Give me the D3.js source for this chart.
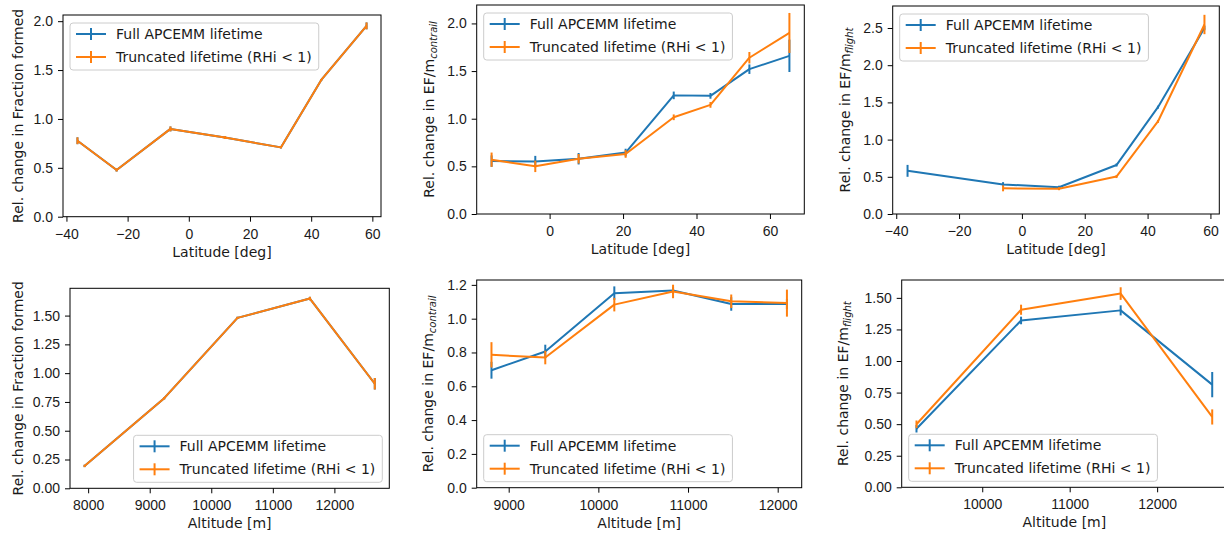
<!DOCTYPE html>
<html>
<head>
<meta charset="utf-8">
<script src="https://cdn.jsdelivr.net/npm/d3@7"></script>
<style>
  body { margin: 0; background: #fff; }
  svg { display: block; font-family: "DejaVu Sans", sans-serif; }
</style>
</head>
<body>
<svg id="chart" width="1224" height="535"></svg>
<script>
// latitude bins
const latA = [-36.4, -23.6, -6.0, 11.8, 30.1, 43.3, 58.1];
const latB = [-15.8, -3.9, 7.9, 20.7, 33.8, 43.8, 54.4, 65.3];
const latFlightFull = [-36.4, -6.0, 11.8, 30.1, 43.3, 58.1];
const latFlightTrunc = [-6.0, 11.8, 30.1, 43.3, 58.1];
// altitude bins
const altA = [7941, 9236, 10426, 11602, 12656];
const altB = [8808, 9408, 10178, 10833, 11482, 12103];
const altC = [9248, 10444, 11583, 12630];

// fraction formed vs latitude (both series identical)
const fracLatFull = [0.777, 0.477, 0.898, 0.81, 0.709, 1.399, 1.952];
const fracLatFullErr = [0.035, 0.015, 0.025, 0.015, 0.01, 0.01, 0.035];
const fracLatTrunc = [0.777, 0.477, 0.898, 0.81, 0.709, 1.399, 1.952];
const fracLatTruncErr = [0.035, 0.015, 0.025, 0.015, 0.01, 0.01, 0.035];

// EF per contrail length vs latitude
const efConLatFull = [0.555, 0.55, 0.58, 0.645, 1.245, 1.24, 1.52, 1.66];
const efConLatFullErr = [0.06, 0.06, 0.06, 0.04, 0.04, 0.03, 0.05, 0.17];
const efConLatTrunc = [0.57, 0.50, 0.58, 0.63, 1.015, 1.145, 1.64, 1.90];
const efConLatTruncErr = [0.075, 0.06, 0.05, 0.04, 0.03, 0.03, 0.06, 0.21];

// EF per flight length vs latitude
const efFltLatFull = [0.58, 0.398, 0.36, 0.658, 1.436, 2.50];
const efFltLatFullErr = [0.08, 0.03, 0.02, 0.02, 0.02, 0.03];
const efFltLatTrunc = [0.345, 0.34, 0.503, 1.244, 2.547];
const efFltLatTruncErr = [0.04, 0.02, 0.02, 0.02, 0.13];

// fraction formed vs altitude (both series identical)
const fracAltFull = [0.194, 0.783, 1.48, 1.648, 0.908];
const fracAltFullErr = [0.01, 0.01, 0.01, 0.015, 0.05];
const fracAltTrunc = [0.194, 0.783, 1.48, 1.648, 0.908];
const fracAltTruncErr = [0.01, 0.01, 0.01, 0.015, 0.05];

// EF per contrail length vs altitude
const efConAltFull = [0.695, 0.806, 1.151, 1.167, 1.087, 1.087];
const efConAltFullErr = [0.05, 0.04, 0.04, 0.02, 0.04, 0.03];
const efConAltTrunc = [0.786, 0.770, 1.083, 1.161, 1.103, 1.092];
const efConAltTruncErr = [0.075, 0.04, 0.04, 0.04, 0.04, 0.08];

// EF per flight length vs altitude
const efFltAltFull = [0.464, 1.321, 1.401, 0.813];
const efFltAltFullErr = [0.03, 0.03, 0.04, 0.10];
const efFltAltTrunc = [0.499, 1.406, 1.534, 0.557];
const efFltAltTruncErr = [0.03, 0.04, 0.05, 0.06];

const seriesNames = ["Full APCEMM lifetime", "Truncated lifetime (RHi < 1)"];
const colors = ["#1f77b4", "#ff7f0e"];

const svg = d3.select("#chart");
svg.append("rect").attr("width", 1224).attr("height", 535).attr("fill", "#fff");

function drawPanel(p) {
  const w = p.box.x1 - p.box.x0, h = p.box.y1 - p.box.y0;
  const g = svg.append("g").attr("transform", `translate(${p.box.x0},${p.box.y0})`);

  const allX = p.series.flatMap(s => s.x);
  const [xmin, xmax] = d3.extent(allX);
  const xm = (xmax - xmin) * 0.05;
  const x = d3.scaleLinear().domain([xmin - xm, xmax + xm]).range([0, w]);

  const lows = p.series.flatMap(s => s.y.map((v, i) => v - s.e[i]));
  const highs = p.series.flatMap(s => s.y.map((v, i) => v + s.e[i]));
  const ylo = d3.min(lows), yhi = d3.max(highs);
  const y = d3.scaleLinear().domain([0, yhi + (yhi - ylo) * 0.05]).range([h, 0]);

  // lines + error bars
  p.series.forEach((s, k) => {
    const pts = s.x.map((xv, i) => ({ x: xv, y: s.y[i], e: s.e[i] }));
    g.append("path")
      .datum(pts)
      .attr("fill", "none")
      .attr("stroke", colors[k])
      .attr("stroke-width", 2)
      .attr("stroke-linejoin", "round")
      .attr("d", d3.line().x(d => x(d.x)).y(d => y(d.y)));
    g.selectAll(null)
      .data(pts)
      .enter()
      .append("line")
      .attr("x1", d => x(d.x))
      .attr("x2", d => x(d.x))
      .attr("y1", d => y(d.y - d.e))
      .attr("y2", d => y(d.y + d.e))
      .attr("stroke", colors[k])
      .attr("stroke-width", 2);
  });

  // axes
  const xAxis = g.append("g")
    .attr("transform", `translate(0,${h})`)
    .call(d3.axisBottom(x).tickValues(p.xTicks).tickSize(5).tickPadding(7)
      .tickFormat(d => d < 0 ? "\u2212" + Math.abs(d) : d));
  const yAxis = g.append("g")
    .call(d3.axisLeft(y).tickValues(p.yTicks).tickSize(5).tickPadding(5)
      .tickFormat(d3.format(p.yFmt)));
  [xAxis, yAxis].forEach(a => {
    a.select(".domain").remove();
    a.selectAll("line").attr("stroke", "#000").attr("stroke-width", 1);
    a.selectAll("text").attr("fill", "#1a1a1a").style("font-size", "14px");
  });

  g.append("rect")
    .attr("width", w).attr("height", h)
    .attr("fill", "none").attr("stroke", "#000").attr("stroke-width", 1);

  // x label
  svg.append("text")
    .attr("x", p.box.x0 + w / 2)
    .attr("y", p.box.y1 + 40)
    .attr("text-anchor", "middle")
    .attr("fill", "#1a1a1a")
    .style("font-size", "14px")
    .text(p.xLabel);

  // y label
  const yl = svg.append("text")
    .attr("transform", `translate(${p.yLabelX},${p.box.y0 + h / 2}) rotate(-90)`)
    .attr("text-anchor", "middle")
    .attr("dy", "0.35em")
    .attr("fill", "#1a1a1a")
    .style("font-size", "14px");
  yl.append("tspan").text(p.yLabel);
  if (p.ySub) {
    yl.append("tspan")
      .attr("dy", "3")
      .style("font-size", "10px")
      .style("font-style", "italic")
      .text(p.ySub);
  }

  // legend
  const lg = g.append("g");
  const box = lg.append("rect")
    .attr("rx", 3).attr("ry", 3)
    .attr("fill", "#fff").attr("fill-opacity", 0.8)
    .attr("stroke", "#cccccc").attr("stroke-width", 1);
  let maxW = 0;
  seriesNames.forEach((name, k) => {
    const ry = 11 + k * 23;
    lg.append("line").attr("x1", 6).attr("x2", 36).attr("y1", ry).attr("y2", ry)
      .attr("stroke", colors[k]).attr("stroke-width", 2);
    lg.append("line").attr("x1", 21).attr("x2", 21).attr("y1", ry - 6).attr("y2", ry + 6)
      .attr("stroke", colors[k]).attr("stroke-width", 2);
    const t = lg.append("text").attr("x", 46).attr("y", ry).attr("dy", "0.35em")
      .attr("fill", "#1a1a1a").style("font-size", "14px").text(name);
    maxW = Math.max(maxW, t.node().getComputedTextLength());
  });
  const lw = 46 + maxW + 7, lh = 47;
  box.attr("width", lw).attr("height", lh);
  let lx = 7, ly = 8;
  if (p.legend === "lower right") { lx = w - 7 - lw; ly = h - 6 - lh; }
  if (p.legend === "lower left") { lx = 7; ly = h - 6 - lh; }
  lg.attr("transform", `translate(${lx},${ly})`);
}

const panels = [
  {
    box: { x0: 63, x1: 381, y0: 15, y1: 216.7 },
    series: [
      { x: latA, y: fracLatFull, e: fracLatFullErr },
      { x: latA, y: fracLatTrunc, e: fracLatTruncErr }
    ],
    xTicks: [-40, -20, 0, 20, 40, 60], yTicks: [0, 0.5, 1, 1.5, 2], yFmt: ".1f",
    xLabel: "Latitude [deg]", yLabel: "Rel. change in Fraction formed", yLabelX: 18,
    legend: "upper left"
  },
  {
    box: { x0: 476.7, x1: 804.3, y0: 5, y1: 214 },
    series: [
      { x: latB, y: efConLatFull, e: efConLatFullErr },
      { x: latB, y: efConLatTrunc, e: efConLatTruncErr }
    ],
    xTicks: [0, 20, 40, 60], yTicks: [0, 0.5, 1, 1.5, 2], yFmt: ".1f",
    xLabel: "Latitude [deg]", yLabel: "Rel. change in EF/m", ySub: "contrail", yLabelX: 429,
    legend: "upper left"
  },
  {
    box: { x0: 892.7, x1: 1219.3, y0: 6, y1: 214 },
    series: [
      { x: latFlightFull, y: efFltLatFull, e: efFltLatFullErr },
      { x: latFlightTrunc, y: efFltLatTrunc, e: efFltLatTruncErr }
    ],
    xTicks: [-40, -20, 0, 20, 40, 60], yTicks: [0, 0.5, 1, 1.5, 2, 2.5], yFmt: ".1f",
    xLabel: "Latitude [deg]", yLabel: "Rel. change in EF/m", ySub: "flight", yLabelX: 845,
    legend: "upper left"
  },
  {
    box: { x0: 70, x1: 389.3, y0: 288.3, y1: 488.3 },
    series: [
      { x: altA, y: fracAltFull, e: fracAltFullErr },
      { x: altA, y: fracAltTrunc, e: fracAltTruncErr }
    ],
    xTicks: [8000, 9000, 10000, 11000, 12000], yTicks: [0, 0.25, 0.5, 0.75, 1, 1.25, 1.5], yFmt: ".2f",
    xLabel: "Altitude [m]", yLabel: "Rel. change in Fraction formed", yLabelX: 18,
    legend: "lower right"
  },
  {
    box: { x0: 476.7, x1: 801.7, y0: 280, y1: 487.7 },
    series: [
      { x: altB, y: efConAltFull, e: efConAltFullErr },
      { x: altB, y: efConAltTrunc, e: efConAltTruncErr }
    ],
    xTicks: [9000, 10000, 11000, 12000], yTicks: [0, 0.2, 0.4, 0.6, 0.8, 1, 1.2], yFmt: ".1f",
    xLabel: "Altitude [m]", yLabel: "Rel. change in EF/m", ySub: "contrail", yLabelX: 428,
    legend: "lower left"
  },
  {
    box: { x0: 901.7, x1: 1227, y0: 280, y1: 487.3 },
    series: [
      { x: altC, y: efFltAltFull, e: efFltAltFullErr },
      { x: altC, y: efFltAltTrunc, e: efFltAltTruncErr }
    ],
    xTicks: [10000, 11000, 12000], yTicks: [0, 0.25, 0.5, 0.75, 1, 1.25, 1.5], yFmt: ".2f",
    xLabel: "Altitude [m]", yLabel: "Rel. change in EF/m", ySub: "flight", yLabelX: 843,
    legend: "lower left"
  }
];

panels.forEach(drawPanel);
</script>
</body>
</html>
